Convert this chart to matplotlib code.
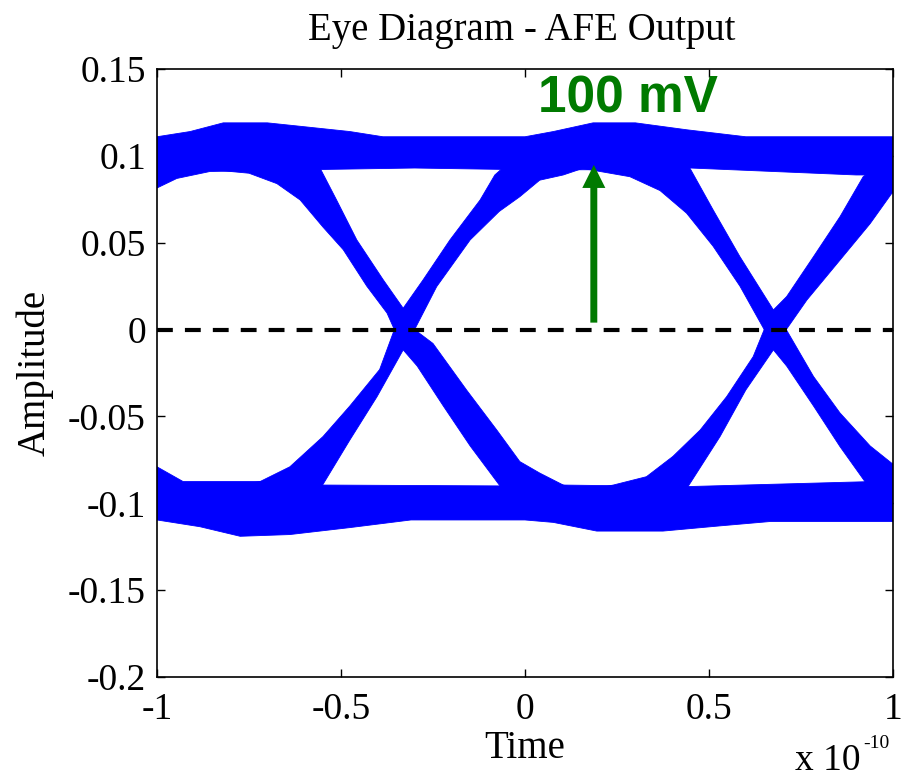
import matplotlib
matplotlib.use("Agg")
import matplotlib.pyplot as plt

plt.rcParams['font.family'] = 'Liberation Serif'

upper_top_t = [-1, -0.91, -0.82, -0.70, -0.61, -0.476, -0.386, 0.0, 0.077, 0.185, 0.30, 0.44, 0.60, 1.0]
upper_top_v = [0.111, 0.114, 0.119, 0.119, 0.117, 0.114, 0.111, 0.111, 0.114, 0.119, 0.119, 0.115, 0.111, 0.111]
upper_bot_t = [-1, -0.946, -0.856, -0.6, -0.3, 0.0, 0.2, 0.45, 0.9, 1.0]
upper_bot_v = [0.0815, 0.087, 0.091, 0.092, 0.093, 0.092, 0.092, 0.093, 0.089, 0.089]

lower_top_t = [-1, -0.929, -0.72, -0.55, -0.07, 0.1, 0.44, 0.924, 1.0]
lower_top_v = [-0.079, -0.0875, -0.0875, -0.0895, -0.09, -0.0895, -0.0904, -0.0876, -0.087]
lower_bot_t = [-1, -0.883, -0.774, -0.639, -0.476, -0.31, 0.0, 0.077, 0.195, 0.375, 0.53, 0.666, 1.0]
lower_bot_v = [-0.1096, -0.1135, -0.119, -0.118, -0.114, -0.1096, -0.1096, -0.111, -0.116, -0.116, -0.113, -0.1105, -0.1105]

# falling edges through the crossing at -0.33
fallA_e1_t = [-0.85, -0.75, -0.674, -0.611, -0.549, -0.494, -0.43, -0.375, -0.355, -0.331, -0.293, -0.222, -0.149, -0.068, 0.0]
fallA_e1_v = [0.092, 0.090, 0.084, 0.0746, 0.059, 0.046, 0.025, 0.0095, 0.0, -0.0117, -0.021, -0.044, -0.067, -0.09, -0.095]
fallA_e2_t = [-0.60, -0.557, -0.512, -0.457, -0.385, -0.331, -0.30, -0.25, -0.158, -0.076, -0.014, 0.04, 0.104, 0.2]
fallA_e2_v = [0.095, 0.093, 0.0746, 0.0516, 0.0286, 0.0123, 0.0, -0.008, -0.035, -0.058, -0.076, -0.0826, -0.0895, -0.095]

# rising edges through the crossing at -0.33
riseA_e1_t = [-0.85, -0.72, -0.639, -0.549, -0.476, -0.395, -0.355, -0.331, -0.277, -0.204, -0.122, -0.082, -0.05]
riseA_e1_v = [-0.092, -0.0875, -0.079, -0.0616, -0.044, -0.023, 0.0, 0.0123, 0.0286, 0.0516, 0.0746, 0.089, 0.095]
riseA_e2_t = [-0.65, -0.55, -0.476, -0.402, -0.331, -0.30, -0.24, -0.149, -0.07, -0.014, 0.04, 0.104, 0.16]
riseA_e2_v = [-0.095, -0.0895, -0.0636, -0.0386, -0.0117, 0.0, 0.0247, 0.0516, 0.068, 0.0765, 0.086, 0.089, 0.093]

# falling edges through the crossing at 0.67
fallB_e1_t = [0.15, 0.285, 0.367, 0.439, 0.511, 0.584, 0.65, 0.675, 0.711, 0.784, 0.856, 0.924, 1.0]
fallB_e1_v = [0.093, 0.088, 0.080, 0.067, 0.048, 0.025, 0.0, -0.0117, -0.021, -0.044, -0.0674, -0.0876, -0.095]
fallB_e2_t = [0.40, 0.448, 0.511, 0.584, 0.675, 0.71, 0.784, 0.856, 0.938, 0.997, 1.0]
fallB_e2_v = [0.095, 0.093, 0.069, 0.042, 0.0113, 0.0, -0.027, -0.048, -0.067, -0.077, -0.077]

# rising edges through the crossing at 0.67
riseB_e1_t = [0.15, 0.24, 0.33, 0.402, 0.476, 0.548, 0.62, 0.65, 0.675, 0.711, 0.784, 0.856, 0.919, 0.95, 1.0]
riseB_e1_v = [-0.093, -0.0895, -0.0847, -0.073, -0.0578, -0.0386, -0.0156, 0.0, 0.0113, 0.019, 0.042, 0.065, 0.088, 0.093, 0.095]
riseB_e2_t = [0.35, 0.443, 0.53, 0.60, 0.675, 0.71, 0.766, 0.856, 0.938, 0.997, 1.0]
riseB_e2_v = [-0.095, -0.0904, -0.0616, -0.0348, -0.0117, 0.0, 0.017, 0.040, 0.061, 0.0785, 0.0785]

x_ticks = [-1, -0.5, 0, 0.5, 1]
x_labels = ['-1', '-0.5', '0', '0.5', '1']
y_ticks = [-0.2, -0.15, -0.1, -0.05, 0, 0.05, 0.1, 0.15]
y_labels = ['-0.2', '-0.15', '-0.1', '-0.05', '0', '0.05', '0.1', '0.15']

arrow_t = 0.187
arrow_from = 0.004
arrow_to = 0.0948

fig = plt.figure(figsize=(9.01, 7.77), dpi=100)
ax = fig.add_axes([157 / 901, 100 / 777, 736 / 901, 608 / 777])

blue = '#0000ff'


def band(t1, v1, t2, v2):
    ax.fill(list(t1) + t2[::-1], list(v1) + v2[::-1], color=blue, lw=0.6, zorder=2)


band(upper_top_t, upper_top_v, upper_bot_t, upper_bot_v)
band(lower_top_t, lower_top_v, lower_bot_t, lower_bot_v)
band(fallA_e1_t, fallA_e1_v, fallA_e2_t, fallA_e2_v)
band(riseA_e1_t, riseA_e1_v, riseA_e2_t, riseA_e2_v)
band(fallB_e1_t, fallB_e1_v, fallB_e2_t, fallB_e2_v)
band(riseB_e1_t, riseB_e1_v, riseB_e2_t, riseB_e2_v)

ax.axhline(0, color='k', lw=3, dashes=(3.8, 2.9), zorder=3)

green = '#007a00'
ax.annotate('', xy=(arrow_t, arrow_to), xytext=(arrow_t, arrow_from),
            arrowprops=dict(arrowstyle='simple,head_length=0.83,head_width=0.83,tail_width=0.25',
                            color=green, lw=0, shrinkA=0, shrinkB=0, mutation_scale=20),
            zorder=4)
ax.text(0.2785, 0.1247, '100 mV', color=green, fontsize=37, fontweight='bold',
        family='Liberation Sans', ha='center', va='baseline', zorder=5)

ax.set_xlim(-1, 1)
ax.set_ylim(-0.2, 0.15)
ax.set_xticks(x_ticks)
ax.set_xticklabels(x_labels)
ax.set_yticks(y_ticks)
ax.set_yticklabels(y_labels)
ax.tick_params(direction='in', length=6, width=1, labelsize=27, top=True, right=True)
ax.tick_params(axis='x', pad=11)
ax.tick_params(axis='y', pad=8)
for s in ax.spines.values():
    s.set_linewidth(1.2)

ax.text(0.496, 1 + 29 / 608, 'Eye Diagram - AFE Output', ha='center', va='baseline',
        fontsize=28, transform=ax.transAxes)
ax.text(0.5, -81 / 608, 'Time', ha='center', va='baseline', fontsize=28, transform=ax.transAxes)
ax.text(-0.166, 0.5, 'Amplitude', ha='center', va='center', rotation=90, fontsize=28,
        transform=ax.transAxes)
fig.text(795 / 901, 1 - 770 / 777, 'x 10', fontsize=27, ha='left', va='baseline')
fig.text(863 / 901, 1 - 748 / 777, '-10', fontsize=14, ha='left', va='baseline')

fig.savefig('out.png', dpi=100)
